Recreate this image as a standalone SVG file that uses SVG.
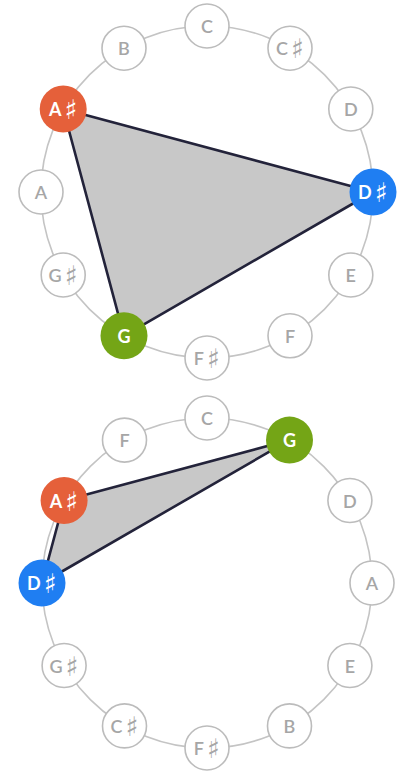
<svg xmlns="http://www.w3.org/2000/svg" width="403" height="774" viewBox="0 0 403 774">
<style>
.ring{fill:none;stroke:#c4c4c4;stroke-width:1.6}
.tri{fill:#c8c8c8;stroke:#23233a;stroke-width:2.6;stroke-linejoin:round}
.n circle{fill:#fff;stroke:#bcbcbc;stroke-width:1.6}
.n text{font-family:Lato,"DejaVu Sans",sans-serif;font-size:18px;font-weight:600;fill:#a6a6a6;text-anchor:middle;dominant-baseline:central}
.c text{font-family:Lato,"DejaVu Sans",sans-serif;font-size:18px;font-weight:700;fill:#fff;text-anchor:middle;dominant-baseline:central}
.s{font-family:"DejaVu Sans",sans-serif;font-size:27px;font-weight:400}
.red{fill:#e5603a}.blue{fill:#1f7ef2}.green{fill:#74a516}
</style>
<rect width="403" height="774" fill="#fff"/>
<g id="connectors">
<circle class="ring" cx="207" cy="192" r="166"/>
<circle class="ring" cx="207" cy="583" r="165"/>
<polygon class="tri" points="63.2,109 373,192 124,335.8"/>
<polygon class="tri" points="64.1,500.5 289.5,440.1 42,583"/>
</g>
<g id="top">
<g id="t-C" class="n"><circle cx="207" cy="26" r="22"/><text x="207" y="26">C</text></g>
<g id="t-Cs" class="n"><circle cx="290" cy="48.2" r="22"/><text x="290" y="48.2">C<tspan class="s" dx="3">♯</tspan></text></g>
<g id="t-D" class="n"><circle cx="350.8" cy="109" r="22"/><text x="350.8" y="109">D</text></g>
<g id="t-Ds" class="c"><circle class="blue" cx="373" cy="192" r="23.5"/><text x="373" y="192">D<tspan class="s" dx="3">♯</tspan></text></g>
<g id="t-E" class="n"><circle cx="350.8" cy="275" r="22"/><text x="350.8" y="275">E</text></g>
<g id="t-F" class="n"><circle cx="290" cy="335.8" r="22"/><text x="290" y="335.8">F</text></g>
<g id="t-Fs" class="n"><circle cx="207" cy="358" r="22"/><text x="207" y="358">F<tspan class="s" dx="3">♯</tspan></text></g>
<g id="t-G" class="c"><circle class="green" cx="124" cy="335.8" r="23.5"/><text x="124" y="335.8">G</text></g>
<g id="t-Gs" class="n"><circle cx="63.2" cy="275" r="22"/><text x="63.2" y="275">G<tspan class="s" dx="3">♯</tspan></text></g>
<g id="t-A" class="n"><circle cx="41" cy="192" r="22"/><text x="41" y="192">A</text></g>
<g id="t-As" class="c"><circle class="red" cx="63.2" cy="109" r="23.5"/><text x="63.2" y="109">A<tspan class="s" dx="3">♯</tspan></text></g>
<g id="t-B" class="n"><circle cx="124" cy="48.2" r="22"/><text x="124" y="48.2">B</text></g>
</g>
<g id="bottom">
<g id="b-C" class="n"><circle cx="207" cy="418" r="22"/><text x="207" y="418">C</text></g>
<g id="b-G" class="c"><circle class="green" cx="289.5" cy="440.1" r="23.5"/><text x="289.5" y="440.1">G</text></g>
<g id="b-D" class="n"><circle cx="349.9" cy="500.5" r="22"/><text x="349.9" y="500.5">D</text></g>
<g id="b-A" class="n"><circle cx="372" cy="583" r="22"/><text x="372" y="583">A</text></g>
<g id="b-E" class="n"><circle cx="349.9" cy="665.5" r="22"/><text x="349.9" y="665.5">E</text></g>
<g id="b-B" class="n"><circle cx="289.5" cy="725.9" r="22"/><text x="289.5" y="725.9">B</text></g>
<g id="b-Fs" class="n"><circle cx="207" cy="748" r="22"/><text x="207" y="748">F<tspan class="s" dx="3">♯</tspan></text></g>
<g id="b-Cs" class="n"><circle cx="124.5" cy="725.9" r="22"/><text x="124.5" y="725.9">C<tspan class="s" dx="3">♯</tspan></text></g>
<g id="b-Gs" class="n"><circle cx="64.1" cy="665.5" r="22"/><text x="64.1" y="665.5">G<tspan class="s" dx="3">♯</tspan></text></g>
<g id="b-Ds" class="c"><circle class="blue" cx="42" cy="583" r="23.5"/><text x="42" y="583">D<tspan class="s" dx="3">♯</tspan></text></g>
<g id="b-As" class="c"><circle class="red" cx="64.1" cy="500.5" r="23.5"/><text x="64.1" y="500.5">A<tspan class="s" dx="3">♯</tspan></text></g>
<g id="b-F" class="n"><circle cx="124.5" cy="440.1" r="22"/><text x="124.5" y="440.1">F</text></g>
</g>
</svg>
